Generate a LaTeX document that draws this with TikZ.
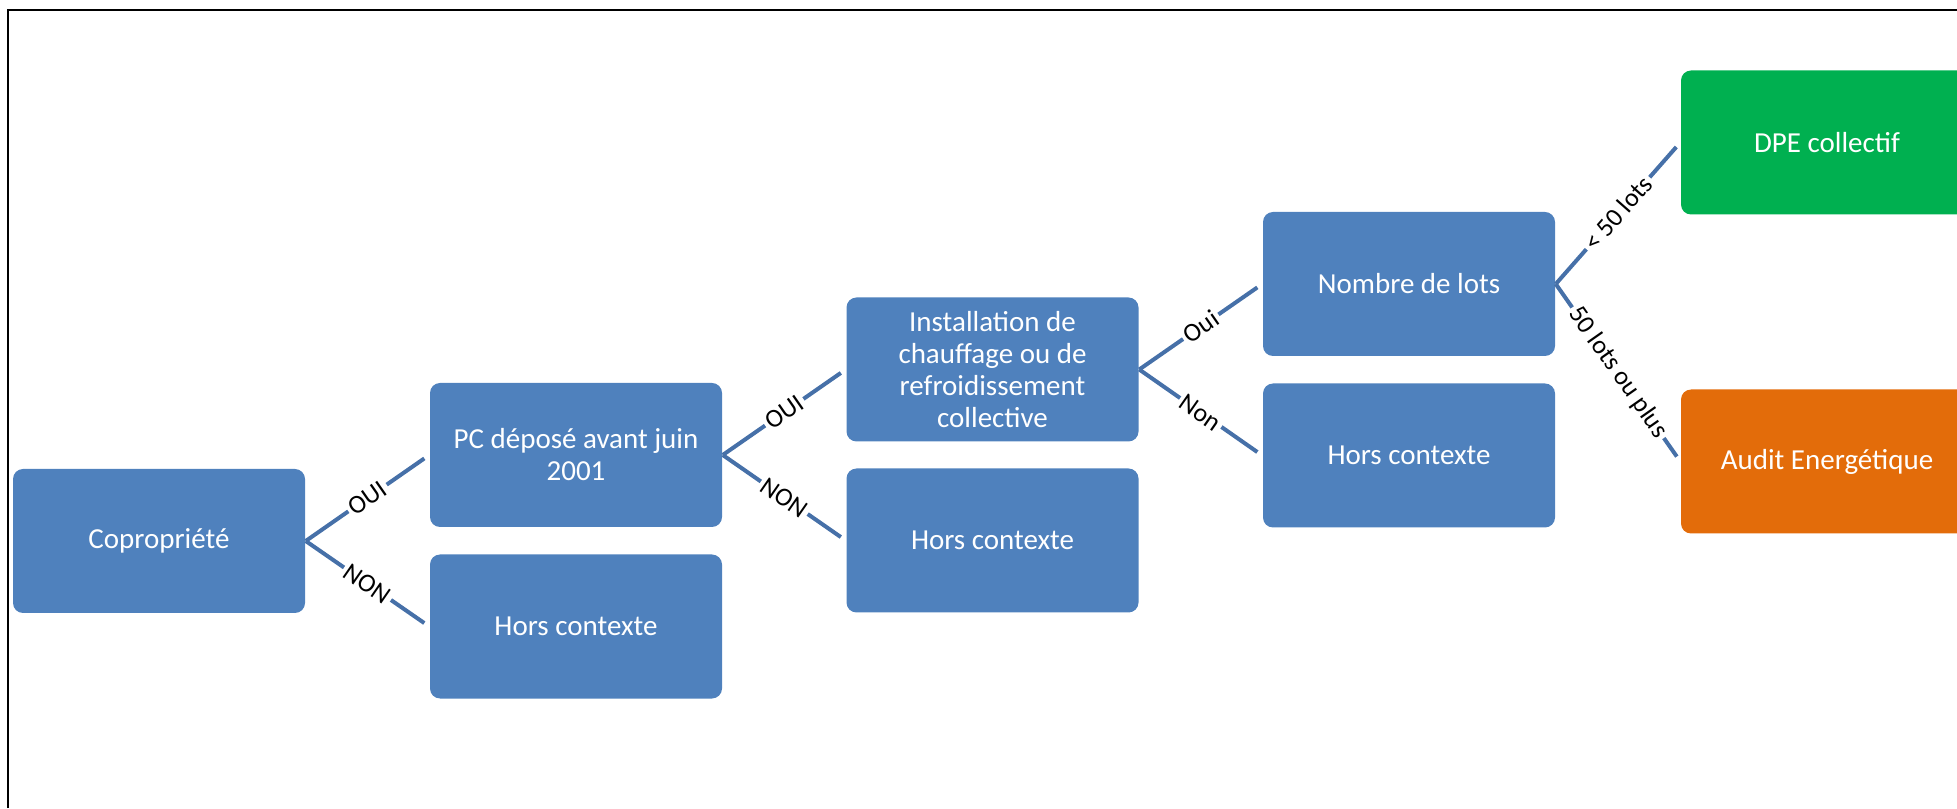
\documentclass[tikz,border=0pt]{standalone}
\usepackage{fontspec}
\setmainfont{Carlito}
\definecolor{boxblue}{RGB}{79,129,189}
\definecolor{linkblue}{RGB}{70,112,168}
\definecolor{dpegreen}{RGB}{0,176,80}
\definecolor{auditorange}{RGB}{227,108,10}
\tikzset{
	decision/.style={rounded corners=5pt, fill=boxblue, text=white, minimum width=146pt, minimum height=72pt, align=center, font=\fontsize{14.5}{16}\selectfont},
	branch/.style={draw=linkblue, line width=2pt, shorten >=3pt},
	choice/.style={midway, sloped, fill=white, inner sep=1.5pt, text=black, font=\fontsize{13}{14}\selectfont}}
\tikzset{every picture/.style={line width=0.75pt}}

\begin{document}
\begin{tikzpicture}[x=0.5pt,y=0.5pt]
	\clip (0,0) rectangle (1957,808);

	%Frame
	\draw [line width=0.9pt] (8,0) -- (8,798) -- (1957,798) ;

	%Boxes
	\node [decision] (copro) at (159,267) {Copropriété};
	\node [decision] (pc) at (576,353) {PC déposé avant juin\\2001};
	\node [decision] (hors1) at (576,181.5) {Hors contexte};
	\node [decision] (install) at (992.5,438.5) {Installation de\\chauffage ou de\\refroidissement\\collective};
	\node [decision] (hors2) at (992.5,267.5) {Hors contexte};
	\node [decision] (nombre) at (1409,524) {Nombre de lots};
	\node [decision] (hors3) at (1409,352.5) {Hors contexte};
	\node [decision, fill=dpegreen] (dpe) at (1827,665.5) {DPE collectif};
	\node [decision, fill=auditorange] (audit) at (1827,346.5) {Audit Energétique};

	%Branches
	\draw [branch] (copro.east) -- (pc.west) node [choice] {OUI};
	\draw [branch] (copro.east) -- (hors1.west) node [choice] {NON};
	\draw [branch] (pc.east) -- (install.west) node [choice] {OUI};
	\draw [branch] (pc.east) -- (hors2.west) node [choice] {NON};
	\draw [branch] (install.east) -- (nombre.west) node [choice] {Oui};
	\draw [branch] (install.east) -- (hors3.west) node [choice] {Non};
	\draw [branch] (nombre.east) -- (dpe.west) node [choice] {< 50 lots};
	\draw [branch] (nombre.east) -- (audit.west) node [choice] {50 lots ou plus};

\end{tikzpicture}
\end{document}
